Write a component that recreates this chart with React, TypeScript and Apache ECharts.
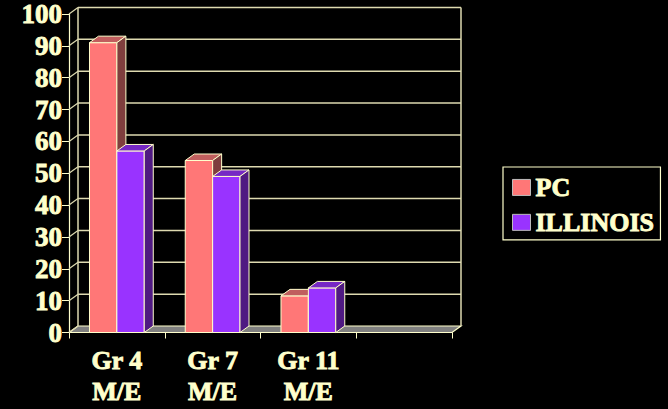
import React, { useEffect, useRef } from "react";
import * as echarts from "echarts";

const categories = ["Gr 4\nM/E", "Gr 7\nM/E", "Gr 11\nM/E", ""];
const seriesNames = ["PC", "ILLINOIS"];
const pcValues = [91, 54, 11.5];
const illinoisValues = [57, 49, 14];
const yTicks = [0, 10, 20, 30, 40, 50, 60, 70, 80, 90, 100];

const CREAM = "#FFFFCC";
const GRIDC = "#DEDAB0";
const FLOOR = "#808080";
const DX = 9;
const DY = -6.5;
const FONT = "Liberation Serif, Times New Roman, serif";

const palettes = [
  { front: "#FF7777", top: "#C05E5E", side: "#7F3E3E" },
  { front: "#9933FF", top: "#7628C4", side: "#4F1A82" },
];

function barRender(si: number) {
  return (params: any, api: any) => {
    const cat = api.value(0);
    const val = api.value(1);
    const c = api.coord([cat, val]);
    const base = api.coord([cat, 0]);
    const band = api.size([1, 0])[0];
    const w = band * 0.286;
    const x0 = c[0] - w + si * w;
    const x1 = x0 + w;
    const yt = c[1];
    const yb = base[1];
    const pal = palettes[si];
    const st = { stroke: CREAM, lineWidth: 1 };
    return {
      type: "group",
      children: [
        {
          type: "polygon",
          shape: { points: [[x0, yb], [x1, yb], [x1, yt], [x0, yt]] },
          style: { fill: pal.front, ...st },
        },
        {
          type: "polygon",
          shape: { points: [[x0, yt], [x1, yt], [x1 + DX, yt + DY], [x0 + DX, yt + DY]] },
          style: { fill: pal.top, ...st },
        },
        {
          type: "polygon",
          shape: { points: [[x1, yb], [x1 + DX, yb + DY], [x1 + DX, yt + DY], [x1, yt]] },
          style: { fill: pal.side, ...st },
        },
      ],
    };
  };
}

function wallRender(params: any, api: any) {
  const v = api.value(0);
  const cs = params.coordSys;
  const xl = cs.x;
  const xr = cs.x + cs.width;
  const y = api.coord([0, v])[1];
  const children: any[] = [];
  if (v === yTicks[0]) {
    const yTop = api.coord([0, yTicks[yTicks.length - 1]])[1];
    children.push({
      type: "polygon",
      shape: { points: [[xl, y], [xr, y], [xr + DX, y + DY], [xl + DX, y + DY]] },
      style: { fill: FLOOR, stroke: CREAM, lineWidth: 1.2 },
    });
    children.push({
      type: "line",
      shape: { x1: xl + DX, y1: y + DY, x2: xl + DX, y2: yTop + DY },
      style: { stroke: GRIDC, lineWidth: 1.5 },
    });
    children.push({
      type: "line",
      shape: { x1: xr + DX, y1: y + DY, x2: xr + DX, y2: yTop + DY },
      style: { stroke: GRIDC, lineWidth: 1.5 },
    });
  } else {
    children.push({
      type: "line",
      shape: { x1: xl + DX, y1: y + DY, x2: xr + DX, y2: y + DY },
      style: { stroke: GRIDC, lineWidth: 1.5 },
    });
  }
  children.push({
    type: "line",
    shape: { x1: xl, y1: y, x2: xl + DX, y2: y + DY },
    style: { stroke: GRIDC, lineWidth: 1.2 },
  });
  return { type: "group", children };
}

export default function App() {
  const ref = useRef<HTMLDivElement>(null);
  useEffect(() => {
    document.body.style.margin = "0";
    document.body.style.background = "#000";
    const chart = echarts.init(ref.current!, null, { renderer: "svg" });
    const textBase = {
      color: CREAM,
      fontFamily: FONT,
      fontWeight: "bold" as const,
      fontSize: 26,
      textBorderColor: CREAM,
      textBorderWidth: 0.9,
    };
    chart.setOption({
      animation: false,
      backgroundColor: "#000",
      grid: {
        left: 69,
        right: 216,
        top: 14,
        bottom: 76.5,
        containLabel: false,
        outerBoundsMode: "none",
      },
      legend: {
        data: seriesNames,
        orient: "vertical",
        left: 503,
        top: 167,
        itemWidth: 18,
        itemHeight: 16,
        itemGap: 8,
        padding: [7, 6, 4, 9],
        borderColor: CREAM,
        borderWidth: 1.2,
        icon: "rect",
        itemStyle: { borderColor: "#bbbbbb", borderWidth: 1 },
        textStyle: { ...textBase, lineHeight: 26 },
        selectedMode: false,
      },
      xAxis: {
        type: "category",
        data: categories,
        axisLine: { show: true, lineStyle: { color: CREAM, width: 1.2 } },
        axisTick: { show: true, length: 6, lineStyle: { color: CREAM } },
        axisLabel: { ...textBase, lineHeight: 31.5, margin: 12, interval: 0 },
        splitLine: { show: false },
      },
      yAxis: {
        type: "value",
        min: 0,
        max: 100,
        interval: 10,
        axisLine: { show: true, lineStyle: { color: CREAM, width: 1.2 } },
        axisTick: { show: true, length: 7, lineStyle: { color: CREAM } },
        axisLabel: { ...textBase, fontSize: 27, margin: 7, padding: [6, 0, 0, 0] },
        splitLine: { show: false },
      },
      series: [
        {
          type: "custom",
          name: "walls",
          z: 1,
          clip: false,
          silent: true,
          renderItem: wallRender,
          data: yTicks.map((v) => [v]),
          encode: { y: 0 },
        },
        {
          type: "custom",
          name: seriesNames[0],
          z: 3,
          clip: false,
          itemStyle: { color: palettes[0].front },
          renderItem: barRender(0),
          data: pcValues.map((v, i) => [i, v]),
          encode: { x: 0, y: 1 },
        },
        {
          type: "custom",
          name: seriesNames[1],
          z: 4,
          clip: false,
          itemStyle: { color: palettes[1].front },
          renderItem: barRender(1),
          data: illinoisValues.map((v, i) => [i, v]),
          encode: { x: 0, y: 1 },
        },
      ],
    });
    return () => chart.dispose();
  }, []);
  return <div ref={ref} style={{ width: 668, height: 409, background: "#000" }} />;
}
